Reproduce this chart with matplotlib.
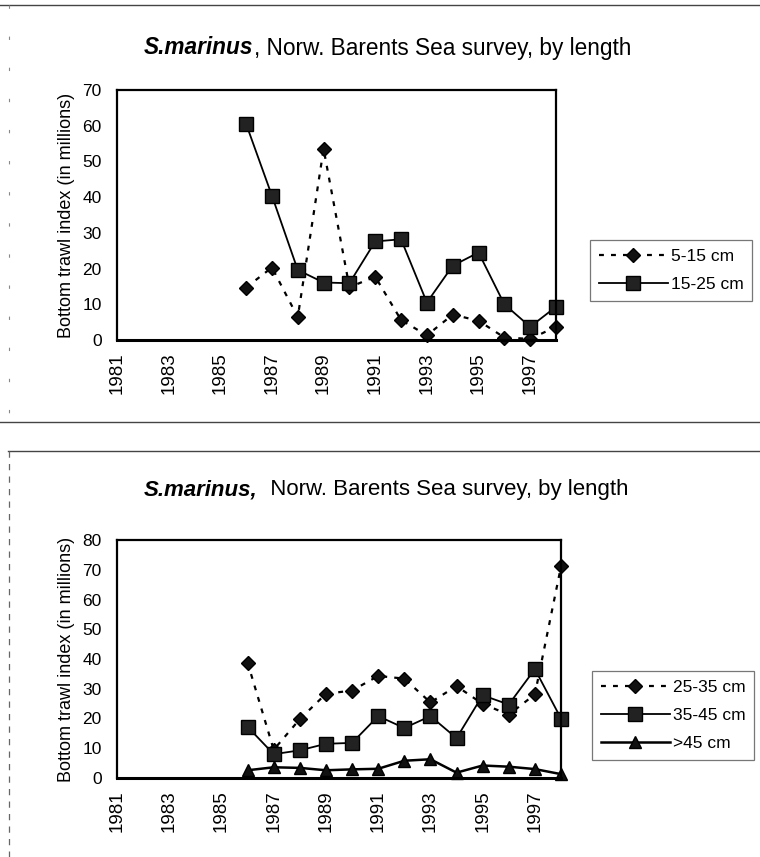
import matplotlib
matplotlib.use("Agg")
import matplotlib.pyplot as plt
from matplotlib.lines import Line2D

plt.rcParams['font.family'] = ['Liberation Sans', 'DejaVu Sans']

# Survey years and the year labels shown on the x axis
years = list(range(1986, 1999))
tick_years = list(range(1981, 1999, 2))
tick_labels = [str(y) for y in tick_years]

# Upper panel: small fish
len_5_15 = [14.7, 20.3, 6.4, 53.5, 14.8, 17.7, 5.6, 1.3, 7.1, 5.4, 0.7, 0.3, 3.7]
len_15_25 = [60.5, 40.4, 19.6, 16.1, 15.9, 27.6, 28.2, 10.5, 20.8, 24.5, 10.0, 3.7, 9.3]

# Lower panel: larger fish
len_25_35 = [38.8, 9.5, 19.8, 28.3, 29.4, 34.3, 33.4, 25.4, 30.9, 24.9, 21.3, 28.1, 71.1]
len_35_45 = [17.2, 8.0, 9.3, 11.5, 11.8, 20.8, 16.8, 20.8, 13.4, 27.8, 24.7, 36.6, 20.0]
len_gt_45 = [2.6, 3.6, 3.4, 2.6, 2.9, 3.1, 5.8, 6.3, 1.8, 4.2, 3.8, 3.0, 1.3]

title_rest = "Norw. Barents Sea survey, by length"
ylabel = "Bottom trawl index (in millions)"

W, H = 760, 857
fig = plt.figure(figsize=(W / 100, H / 100), dpi=100)
fig.patch.set_facecolor("white")
renderer = fig.canvas.get_renderer()


def fx(px):
    return px / W


def fy(py):
    return 1 - py / H


dot_style = dict(color="black", linestyle=(0, (2.2, 3.2)), linewidth=1.6,
                 marker="D", markersize=7, markerfacecolor="#111111",
                 markeredgecolor="black")
square_style = dict(color="black", linestyle="-", linewidth=1.3,
                    marker="s", markersize=9.5, markerfacecolor="#222222",
                    markeredgecolor="black")
tri_style = dict(color="black", linestyle="-", linewidth=1.8,
                 marker="^", markersize=9, markerfacecolor="#111111",
                 markeredgecolor="black")


def style_axes(ax, ymax, ystep):
    ax.set_xlim(1981, 1998)
    ax.set_ylim(0, ymax)
    ax.set_yticks(range(0, ymax + 1, ystep))
    ax.set_xticks(tick_years)
    ax.set_xticklabels(tick_labels, rotation=90, fontsize=13.5)
    ax.tick_params(axis="y", length=0, pad=11, labelsize=12.5)
    ax.tick_params(axis="x", length=0, pad=9)
    for s in ax.spines.values():
        s.set_linewidth(1.6)
        s.set_color("black")
    ax.spines["bottom"].set_linewidth(2.2)
    ax.set_ylabel(ylabel, fontsize=13, labelpad=5)


def draw_title(y_px, bold_part, joiner, size=16):
    t1 = fig.text(fx(144), fy(y_px), bold_part, fontsize=size,
                  fontweight="bold", fontstyle="italic", ha="left",
                  va="center")
    bb = t1.get_window_extent(renderer=renderer)
    fig.text(bb.x1 / W, fy(y_px), joiner + title_rest, fontsize=size,
             ha="left", va="center")


def add_legend(ax, x_px, y_px):
    leg = ax.legend(loc="upper left", bbox_to_anchor=(fx(x_px), fy(y_px)),
                    bbox_transform=fig.transFigure, fontsize=12.5,
                    frameon=True, fancybox=False, edgecolor="#555555",
                    handlelength=4.0, borderpad=0.5, labelspacing=0.75,
                    handletextpad=0.15, borderaxespad=0)
    leg.get_frame().set_linewidth(0.9)
    return leg


# ---- upper panel ----
ax1 = fig.add_axes([fx(117), fy(340), fx(556 - 117), (340 - 90) / H])
ax1.plot(years, len_5_15, label="5-15 cm", clip_on=False, **dot_style)
ax1.plot(years, len_15_25, label="15-25 cm", clip_on=False, **square_style)
style_axes(ax1, 70, 10)
draw_title(48, "S.marinus", ", ", size=16.3)
add_legend(ax1, 590, 240)

# ---- lower panel ----
ax2 = fig.add_axes([fx(117), fy(778), fx(561 - 117), (778 - 540) / H])
ax2.plot(years, len_25_35, label="25-35 cm", clip_on=False, **dot_style)
ax2.plot(years, len_35_45, label="35-45 cm", clip_on=False, **square_style)
ax2.plot(years, len_gt_45, label=">45 cm", clip_on=False, **tri_style)
style_axes(ax2, 80, 10)
draw_title(490, "S.marinus,", "  ")
add_legend(ax2, 592, 671)

# ---- page frame lines around the two panels ----
frame_kw = dict(color="#444444", linewidth=1.0, transform=fig.transFigure)
fig.add_artist(Line2D([0, 1], [fy(5), fy(5)], **frame_kw))
fig.add_artist(Line2D([0, 1], [fy(422), fy(422)], **frame_kw))
fig.add_artist(Line2D([fx(8), 1], [fy(451), fy(451)], **frame_kw))
fig.add_artist(Line2D([fx(9), fx(9)], [fy(5), fy(422)], color="#888888",
                      linewidth=0.8, linestyle=(0, (3, 25)),
                      transform=fig.transFigure))
fig.add_artist(Line2D([fx(9), fx(9)], [fy(451), fy(857)], color="#666666",
                      linewidth=0.9, linestyle=(0, (5, 5)),
                      transform=fig.transFigure))

fig.savefig("out.png", dpi=100, facecolor="white")
